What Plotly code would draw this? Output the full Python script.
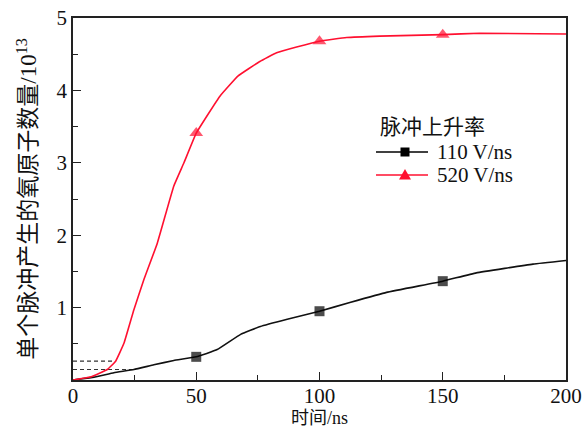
import plotly.graph_objects as go

# Oxygen atoms produced per pulse (units of 1e13) vs time, for two pulse rise rates
t_110 = [0, 8.5, 16.6, 24.7, 32.8, 40.9, 50, 58.5, 68, 76, 86.9, 100, 112.3, 127.2, 150, 163.6, 186.6, 200]
n_110 = [0, 0.04, 0.10, 0.145, 0.21, 0.27, 0.32, 0.42, 0.63, 0.74, 0.84, 0.95, 1.07, 1.21, 1.365, 1.48, 1.60, 1.65]

t_520 = [0, 7, 13.9, 17.3, 20.7, 24.7, 28.8, 34.2, 40.9, 45, 50, 59.6, 67, 75.8, 82.6, 90.7, 100, 111, 124.4, 150, 165, 200]
n_520 = [0, 0.04, 0.145, 0.26, 0.51, 0.97, 1.39, 1.89, 2.68, 3.0, 3.41, 3.92, 4.20, 4.40, 4.52, 4.60, 4.68, 4.73, 4.75, 4.77, 4.79, 4.78]

marker_times = [50, 100, 150]

# Reference guide lines at low yields
guide_upper_t = [0, 16.6]
guide_upper_n = [0.26, 0.26]
guide_lower_t = [0, 24.7]
guide_lower_n = [0.145, 0.145]

series_names = ["110 V/ns", "520 V/ns"]
legend_title = "脉冲上升率"
x_title = "时间/ns"
y_title = "单个脉冲产生的氧原子数量/10<sup>13</sup>"
y_tick_values = [1, 2, 3, 4, 5]

BLACK = "#111111"
RED = "#ff1030"
FONT = "Liberation Serif, Noto Sans CJK SC, serif"

# plot-area geometry in pixels
W, H = 586, 430
ML, MR, MT, MB = 73, 20, 18, 50
PW, PH = W - ML - MR, H - MT - MB


def px_to_paper(x, y):
    return (x - ML) / PW, (H - MB - y) / PH


def sizes(ts, s):
    return [s if t in marker_times else 0 for t in ts]


fig = go.Figure()

for tt, nn in [(guide_upper_t, guide_upper_n), (guide_lower_t, guide_lower_n)]:
    fig.add_trace(go.Scatter(x=tt, y=nn, mode="lines", showlegend=False, hoverinfo="skip",
                             line=dict(color="#333333", width=1.2, dash="4px,3px")))

fig.add_trace(go.Scatter(x=t_110, y=n_110, mode="lines+markers", showlegend=False,
                         line=dict(color=BLACK, width=1.6, shape="spline", smoothing=0.3),
                         marker=dict(symbol="square", size=sizes(t_110, 10), color="#000000",
                                     line=dict(width=0))))
fig.add_trace(go.Scatter(x=t_520, y=n_520, mode="lines+markers", showlegend=False,
                         line=dict(color=RED, width=1.6, shape="spline", smoothing=0.3),
                         marker=dict(symbol="triangle-up", size=sizes(t_520, 12), color=RED,
                                     line=dict(width=0))))

# Legend drawn in the upper right of the plot area
legend_rows = [
    (series_names[0], "#000000", "square", 152),
    (series_names[1], RED, "triangle", 175),
]
tx, ty = px_to_paper(378, 127)
fig.add_annotation(x=tx, y=ty, xref="paper", yref="paper", text=legend_title, showarrow=False,
                   xanchor="left", yanchor="middle", font=dict(family=FONT, size=21, color="#111111"))
for name, color, sym, ypx in legend_rows:
    x0, yy = px_to_paper(376, ypx)
    x1, _ = px_to_paper(428, ypx)
    fig.add_shape(type="line", xref="paper", yref="paper", x0=x0, x1=x1, y0=yy, y1=yy,
                  line=dict(color=color, width=1.6))
    cx, cy = 405, ypx
    if sym == "square":
        a, b = px_to_paper(cx - 4.5, cy + 4.5)
        c, d = px_to_paper(cx + 4.5, cy - 4.5)
        fig.add_shape(type="rect", xref="paper", yref="paper", x0=a, y0=b, x1=c, y1=d,
                      fillcolor=color, line=dict(width=0))
    else:
        p1 = px_to_paper(cx - 6, cy + 4.5)
        p2 = px_to_paper(cx + 6, cy + 4.5)
        p3 = px_to_paper(cx, cy - 6)
        path = f"M{p1[0]},{p1[1]} L{p2[0]},{p2[1]} L{p3[0]},{p3[1]} Z"
        fig.add_shape(type="path", xref="paper", yref="paper", path=path,
                      fillcolor=color, line=dict(width=0))
    lx, ly = px_to_paper(435, ypx)
    fig.add_annotation(x=lx, y=ly, xref="paper", yref="paper", text=name, showarrow=False,
                       xanchor="left", yanchor="middle", font=dict(family=FONT, size=21, color="#111111"))

# x-axis title placed below the tick labels
xtx, xty = px_to_paper(319, 418)
fig.add_annotation(x=xtx, y=xty, xref="paper", yref="paper", text=x_title, showarrow=False,
                   xanchor="center", yanchor="middle", font=dict(family=FONT, size=18, color="#111111"))

axis_common = dict(
    showline=True, linecolor="#222222", linewidth=1.5, mirror=True,
    ticks="inside", ticklen=8, tickwidth=1.2, tickcolor="#222222",
    showgrid=False, zeroline=False, automargin=False,
    tickfont=dict(family=FONT, size=21, color="#111111"),
)

fig.update_xaxes(range=[0, 200], tickmode="linear", tick0=0, dtick=50, ticklabelstandoff=-4,
                 minor=dict(ticks="inside", ticklen=5, tick0=0, dtick=25, tickcolor="#222222"),
                 **axis_common)
fig.update_yaxes(range=[0, 5], tickmode="array", tickvals=y_tick_values,
                 minor=dict(ticks="inside", ticklen=5, tick0=0, dtick=0.5, tickcolor="#222222"),
                 title=dict(text=y_title, font=dict(family=FONT, size=23, color="#111111"), standoff=13),
                 **axis_common)

fig.update_layout(
    width=W, height=H,
    margin=dict(l=ML, r=MR, t=MT, b=MB),
    paper_bgcolor="white", plot_bgcolor="white",
    font=dict(family=FONT, color="#111111"),
    showlegend=False,
)

fig.write_html("out.html")
